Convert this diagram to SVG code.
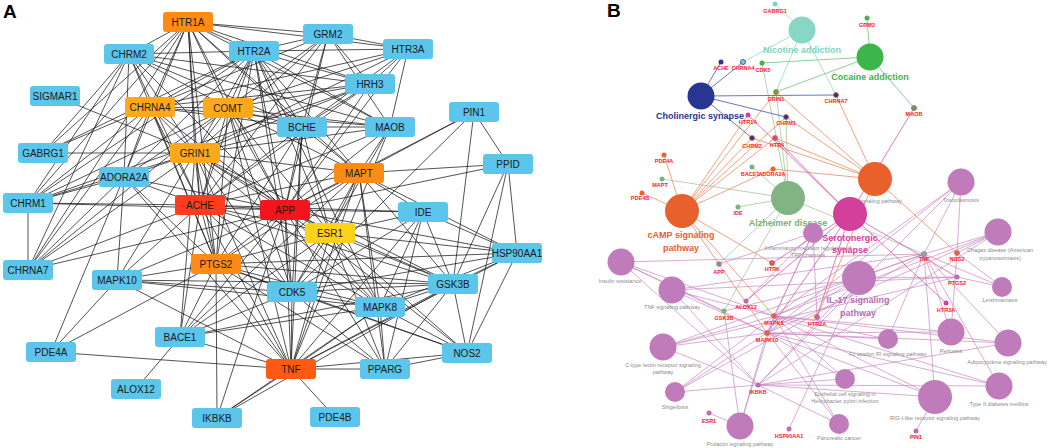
<svg xmlns="http://www.w3.org/2000/svg" width="1049" height="448" viewBox="0 0 1049 448">
<style>
.bg{fill:#ffffff}
.e{stroke:#1a1a1a;stroke-width:0.75;fill:none}
.n rect{rx:3;ry:3}
.blue{fill:#5BC5EB}
.org{fill:#FF8A14}
.lor{fill:#FFA91A}
.ache{fill:#FF3C1E}
.app{fill:#F3141C}
.esr{fill:#FFD21A}
.tnf{fill:#FF5A14}
.t{font-family:"Liberation Sans",Arial,sans-serif;font-size:10px;fill:#1a1a1a;text-anchor:middle}
.pl{font-family:"Liberation Sans",Arial,sans-serif;font-size:19px;font-weight:bold;fill:#000}
.bl{stroke-width:0.8;fill:none}
.c-chol{stroke:#4454AA}
.c-nic{stroke:#8ED9C6}
.c-coc{stroke:#6CC77A}
.c-alz{stroke:#A3C7A3}
.c-camp{stroke:#F08A62}
.c-ser{stroke:#D65AA8}
.c-pur{stroke:#C783C1;stroke-opacity:0.85}
.g{font-family:"Liberation Sans",Arial,sans-serif;font-size:5.5px;font-weight:bold;fill:#FF2020;text-anchor:middle}
.pw{font-family:"Liberation Sans",Arial,sans-serif;font-size:5.5px;fill:#8a8a8a;text-anchor:middle}
.big{font-family:"Liberation Sans",Arial,sans-serif;font-size:9px;font-weight:bold;text-anchor:middle}
.pur{fill:#C07CBA}
</style>
<rect class="bg" x="0" y="0" width="1049" height="448"/>
<text class="pl" x="3" y="18">A</text>
<text class="pl" x="607" y="17">B</text>

<g id="connectors-A">
<path class="e" d="M188 22L129 54M188 22L254 51M188 22L328 34M188 22L408 49M188 22L370 84M188 22L302 127M188 22L390 127M188 22L150 107M188 22L228 108M188 22L195 153M188 22L200 205M188 22L285 210M188 22L124 177M188 22L28 203M188 22L43 153M188 22L359 173M188 22L216 264M188 22L28 270"/>
<path class="e" d="M129 54L254 51M129 54L195 153M129 54L200 205M129 54L28 203M129 54L28 270M129 54L124 177M129 54L285 210M129 54L302 127M129 54L370 84M129 54L228 108M129 54L43 153M129 54L390 127M129 54L216 264"/>
<path class="e" d="M254 51L328 34M254 51L408 49M254 51L370 84M254 51L150 107M254 51L228 108M254 51L195 153M254 51L200 205M254 51L285 210M254 51L302 127M254 51L390 127M254 51L28 203M254 51L124 177M254 51L359 173M254 51L216 264M254 51L330 233M254 51L380 307M254 51L292 292M254 51L43 153"/>
<path class="e" d="M328 34L408 49M328 34L370 84M328 34L228 108M328 34L195 153M328 34L285 210M328 34L302 127M328 34L390 127M328 34L150 107M328 34L200 205"/>
<path class="e" d="M408 49L370 84M408 49L390 127M408 49L150 107M408 49L228 108M408 49L195 153M408 49L302 127M408 49L285 210"/>
<path class="e" d="M370 84L150 107M370 84L228 108M370 84L200 205M370 84L302 127M370 84L285 210M370 84L195 153M370 84L28 203"/>
<path class="e" d="M150 107L228 108M150 107L195 153M150 107L200 205M150 107L285 210M150 107L302 127M150 107L390 127M150 107L124 177M150 107L28 203M150 107L28 270M150 107L43 153M150 107L216 264"/>
<path class="e" d="M228 108L195 153M228 108L200 205M228 108L285 210M228 108L302 127M228 108L390 127M228 108L359 173M228 108L124 177M228 108L28 203M228 108L28 270M228 108L216 264M228 108L330 233M228 108L291 369M228 108L292 292"/>
<path class="e" d="M302 127L200 205M302 127L285 210M302 127L390 127M302 127L359 173M302 127L195 153M302 127L330 233M302 127L292 292M302 127L291 369M302 127L216 264"/>
<path class="e" d="M390 127L285 210M390 127L359 173M390 127L200 205M390 127L195 153M390 127L330 233M390 127L291 369"/>
<path class="e" d="M474 112L359 173M474 112L285 210M474 112L453 284M474 112L508 164M474 112L292 292"/>
<path class="e" d="M508 164L359 173M508 164L285 210M508 164L517 253M508 164L453 284M508 164L467 353"/>
<path class="e" d="M195 153L200 205M195 153L285 210M195 153L124 177M195 153L28 203M195 153L28 270M195 153L43 153M195 153L55 96M195 153L359 173M195 153L216 264M195 153L292 292M195 153L453 284M195 153L380 307M195 153L291 369M195 153L330 233M195 153L117 280M195 153L180 337"/>
<path class="e" d="M124 177L200 205M124 177L285 210M124 177L28 203M124 177L28 270M124 177L216 264M124 177L291 369M124 177L117 280M124 177L51 352"/>
<path class="e" d="M359 173L285 210M359 173L200 205M359 173L423 212M359 173L330 233M359 173L292 292M359 173L453 284M359 173L380 307M359 173L291 369M359 173L216 264M359 173L180 337M359 173L517 253M359 173L385 369"/>
<path class="e" d="M28 203L200 205M28 203L285 210M28 203L28 270"/>
<path class="e" d="M200 205L285 210M200 205L330 233M200 205L216 264M200 205L292 292M200 205L180 337M200 205L291 369M200 205L453 284M200 205L380 307M200 205L423 212M200 205L28 270M200 205L117 280"/>
<path class="e" d="M285 210L423 212M285 210L330 233M285 210L216 264M285 210L292 292M285 210L453 284M285 210L380 307M285 210L291 369M285 210L180 337M285 210L517 253M285 210L467 353M285 210L385 369M285 210L117 280M285 210L217 418M285 210L28 270"/>
<path class="e" d="M423 212L330 233M423 212L453 284M423 212L517 253M423 212L292 292M423 212L380 307M423 212L291 369M423 212L385 369"/>
<path class="e" d="M330 233L216 264M330 233L292 292M330 233L453 284M330 233L380 307M330 233L291 369M330 233L517 253M330 233L467 353M330 233L385 369M330 233L180 337"/>
<path class="e" d="M517 253L453 284M517 253L467 353M517 253L292 292M517 253L216 264M517 253L380 307M517 253L291 369"/>
<path class="e" d="M216 264L292 292M216 264L453 284M216 264L380 307M216 264L291 369M216 264L180 337M216 264L117 280M216 264L217 418M216 264L467 353M216 264L385 369M216 264L51 352"/>
<path class="e" d="M117 280L292 292M117 280L380 307M117 280L453 284M117 280L291 369M117 280L51 352"/>
<path class="e" d="M292 292L453 284M292 292L380 307M292 292L291 369M292 292L180 337M292 292L385 369M292 292L467 353"/>
<path class="e" d="M453 284L380 307M453 284L291 369M453 284L467 353M453 284L385 369M453 284L180 337M453 284L217 418"/>
<path class="e" d="M380 307L291 369M380 307L385 369M380 307L467 353M380 307L180 337M380 307L217 418"/>
<path class="e" d="M180 337L136 389M180 337L291 369M51 352L291 369M291 369L385 369M291 369L467 353M291 369L335 417M291 369L217 418M385 369L467 353"/>
</g>

<g id="node-HTR1A" class="n"><rect class="org" x="163" y="12" width="50" height="20"/><text class="t" x="188" y="25.5">HTR1A</text></g>
<g id="node-CHRM2" class="n"><rect class="blue" x="104" y="44" width="50" height="20"/><text class="t" x="129" y="57.5">CHRM2</text></g>
<g id="node-HTR2A" class="n"><rect class="blue" x="229" y="41" width="50" height="20"/><text class="t" x="254" y="54.5">HTR2A</text></g>
<g id="node-GRM2" class="n"><rect class="blue" x="303" y="24" width="50" height="20"/><text class="t" x="328" y="37.5">GRM2</text></g>
<g id="node-HTR3A" class="n"><rect class="blue" x="383" y="39" width="50" height="20"/><text class="t" x="408" y="52.5">HTR3A</text></g>
<g id="node-HRH3" class="n"><rect class="blue" x="345" y="74" width="50" height="20"/><text class="t" x="370" y="87.5">HRH3</text></g>
<g id="node-SIGMAR1" class="n"><rect class="blue" x="30" y="86" width="50" height="20"/><text class="t" x="55" y="99.5">SIGMAR1</text></g>
<g id="node-CHRNA4" class="n"><rect class="lor" x="125" y="97" width="50" height="20"/><text class="t" x="150" y="110.5">CHRNA4</text></g>
<g id="node-COMT" class="n"><rect class="lor" x="203" y="98" width="50" height="20"/><text class="t" x="228" y="111.5">COMT</text></g>
<g id="node-BCHE" class="n"><rect class="blue" x="277" y="117" width="50" height="20"/><text class="t" x="302" y="130.5">BCHE</text></g>
<g id="node-MAOB" class="n"><rect class="blue" x="365" y="117" width="50" height="20"/><text class="t" x="390" y="130.5">MAOB</text></g>
<g id="node-PIN1" class="n"><rect class="blue" x="449" y="102" width="50" height="20"/><text class="t" x="474" y="115.5">PIN1</text></g>
<g id="node-GABRG1" class="n"><rect class="blue" x="18" y="143" width="50" height="20"/><text class="t" x="43" y="156.5">GABRG1</text></g>
<g id="node-GRIN1" class="n"><rect class="lor" x="170" y="143" width="50" height="20"/><text class="t" x="195" y="156.5">GRIN1</text></g>
<g id="node-ADORA2A" class="n"><rect class="blue" x="99" y="167" width="50" height="20"/><text class="t" x="124" y="180.5">ADORA2A</text></g>
<g id="node-PPID" class="n"><rect class="blue" x="483" y="154" width="50" height="20"/><text class="t" x="508" y="167.5">PPID</text></g>
<g id="node-MAPT" class="n"><rect class="org" x="334" y="163" width="50" height="20"/><text class="t" x="359" y="176.5">MAPT</text></g>
<g id="node-CHRM1" class="n"><rect class="blue" x="3" y="193" width="50" height="20"/><text class="t" x="28" y="206.5">CHRM1</text></g>
<g id="node-ACHE" class="n"><rect class="ache" x="175" y="195" width="50" height="20"/><text class="t" x="200" y="208.5">ACHE</text></g>
<g id="node-APP" class="n"><rect class="app" x="260" y="200" width="50" height="20"/><text class="t" x="285" y="213.5">APP</text></g>
<g id="node-IDE" class="n"><rect class="blue" x="398" y="202" width="50" height="20"/><text class="t" x="423" y="215.5">IDE</text></g>
<g id="node-ESR1" class="n"><rect class="esr" x="305" y="223" width="50" height="20"/><text class="t" x="330" y="236.5">ESR1</text></g>
<g id="node-HSP90AA1" class="n"><rect class="blue" x="492" y="243" width="50" height="20"/><text class="t" x="517" y="256.5">HSP90AA1</text></g>
<g id="node-CHRNA7" class="n"><rect class="blue" x="3" y="260" width="50" height="20"/><text class="t" x="28" y="273.5">CHRNA7</text></g>
<g id="node-PTGS2" class="n"><rect class="org" x="191" y="254" width="50" height="20"/><text class="t" x="216" y="267.5">PTGS2</text></g>
<g id="node-MAPK10" class="n"><rect class="blue" x="92" y="270" width="50" height="20"/><text class="t" x="117" y="283.5">MAPK10</text></g>
<g id="node-CDK5" class="n"><rect class="blue" x="267" y="282" width="50" height="20"/><text class="t" x="292" y="295.5">CDK5</text></g>
<g id="node-GSK3B" class="n"><rect class="blue" x="428" y="274" width="50" height="20"/><text class="t" x="453" y="287.5">GSK3B</text></g>
<g id="node-MAPK8" class="n"><rect class="blue" x="355" y="297" width="50" height="20"/><text class="t" x="380" y="310.5">MAPK8</text></g>
<g id="node-BACE1" class="n"><rect class="blue" x="155" y="327" width="50" height="20"/><text class="t" x="180" y="340.5">BACE1</text></g>
<g id="node-PDE4A" class="n"><rect class="blue" x="26" y="342" width="50" height="20"/><text class="t" x="51" y="355.5">PDE4A</text></g>
<g id="node-NOS2" class="n"><rect class="blue" x="442" y="343" width="50" height="20"/><text class="t" x="467" y="356.5">NOS2</text></g>
<g id="node-TNF" class="n"><rect class="tnf" x="266" y="359" width="50" height="20"/><text class="t" x="291" y="372.5">TNF</text></g>
<g id="node-PPARG" class="n"><rect class="blue" x="360" y="359" width="50" height="20"/><text class="t" x="385" y="372.5">PPARG</text></g>
<g id="node-ALOX12" class="n"><rect class="blue" x="111" y="379" width="50" height="20"/><text class="t" x="136" y="392.5">ALOX12</text></g>
<g id="node-IKBKB" class="n"><rect class="blue" x="192" y="408" width="50" height="20"/><text class="t" x="217" y="421.5">IKBKB</text></g>
<g id="node-PDE4B" class="n"><rect class="blue" x="310" y="407" width="50" height="20"/><text class="t" x="335" y="420.5">PDE4B</text></g>

<g id="connectors-B">
<path class="bl c-pur" d="M621 262L924 254M621 262L774 316M621 262L767 333M621 262L758 385M621 262L724 311M672 290L924 254M672 290L957 277M672 290L774 316M672 290L767 333M672 290L758 385M663 347L924 254M663 347L957 277M663 347L774 316M663 347L767 333M663 347L758 385M675 392L924 254M675 392L774 316M675 392L767 333M675 392L758 385M740 426L709 413M740 426L724 311M740 426L774 316M740 426L767 333M839 424L774 316M839 424L767 333M839 424L758 385M845 379L774 316M845 379L767 333M845 379L758 385M935 397L924 254M935 397L774 316M935 397L767 333M935 397L758 385M935 397L916 431M888 339L924 254M888 339L774 316M888 339L767 333M951 332L924 254M951 332L957 253M951 332L774 316M951 332L767 333M1008 343L924 254M1008 343L774 316M1008 343L767 333M1008 343L758 385M999 386L924 254M999 386L774 316M999 386L767 333M999 386L758 385M1002 287L924 254M1002 287L957 253M1002 287L957 277M998 232L924 254M998 232L957 253M998 232L758 385M998 232L774 316M998 232L767 333M961 182L924 254M961 182L957 253M961 182L774 316M961 182L767 333M961 182L758 385M859 278L924 254M859 278L957 277M859 278L774 316M859 278L767 333M859 278L758 385M859 278L724 311M859 278L789 429M813 233L817 317M813 233L774 316M813 233L767 333M813 233L746 301M813 233L719 264"/>
<path class="bl c-alz" d="M788 198L762 63M788 198L776 92M788 198L752 167M788 198L738 207M788 198L662 179M788 198L719 264M788 198L724 311M788 198L924 254M788 198L786 117"/>
<path class="bl c-camp" d="M682 211L664 155M682 211L642 193M682 211L776 92M682 211L748 115M682 211L786 117M682 211L752 138M682 211L775 138M682 211L773 169M682 211L772 263M682 211L774 316M682 211L767 333M875 179L776 92M875 179L836 95M875 179L786 117M875 179L752 138M875 179L775 138M875 179L773 169M875 179L957 253M875 179L817 317"/>
<path class="bl c-ser" d="M850 214L748 115M850 214L775 138M850 214L914 108M850 214L817 317M850 214L946 303M850 214L772 263M850 214L746 301M850 214L767 333M850 214L957 277"/>
<path class="bl c-chol" d="M701 96L721 62M701 96L743 62M701 96L836 95M701 96L786 117M701 96L752 138"/>
<path class="bl c-nic" d="M802 30L775 4M802 30L743 62M802 30L836 95M802 30L776 92"/>
<path class="bl c-coc" d="M870 57L867 18M870 57L914 108M870 57L762 63M870 57L776 92"/>
</g>

<g id="pw-cholinergic"><circle cx="701" cy="96" r="13.5" fill="#283593"/><text class="big" x="700" y="119" fill="#283593">Cholinergic synapse</text></g>
<g id="pw-nicotine"><circle cx="802" cy="30" r="13.5" fill="#88D6C4"/><text class="big" x="802" y="53" fill="#7FD3C0">Nicotine addiction</text></g>
<g id="pw-cocaine"><circle cx="870" cy="57" r="13.5" fill="#3CB54A"/><text class="big" x="870" y="80" fill="#3CB54A">Cocaine addiction</text></g>
<g id="pw-calcium"><circle cx="875" cy="179" r="17" fill="#E8612C"/><text class="pw" x="858" y="203" style="text-anchor:start">signaling pathway</text></g>
<g id="pw-alzheimer"><circle cx="788" cy="198" r="17" fill="#82B383"/><text class="big" x="788" y="226" fill="#7AAE7A">Alzheimer disease</text></g>
<g id="pw-camp"><circle cx="682" cy="211" r="17" fill="#E8612C"/><text class="big" x="681" y="238" fill="#E8612C">cAMP signaling</text><text class="big" x="681" y="251" fill="#E8612C">pathway</text></g>
<g id="pw-inflammatory"><circle class="pur" cx="813" cy="233" r="10"/><text class="pw" x="808" y="249.5">Inflammatory mediator regulation of</text><text class="pw" x="808" y="256.5">TRP channels</text></g>
<g id="pw-serotonergic"><circle cx="850" cy="214" r="17" fill="#D3409C"/><text class="big" x="850" y="241" fill="#D3409C">Serotonergic</text><text class="big" x="850" y="253" fill="#D3409C">synapse</text></g>
<g id="pw-toxoplasmosis"><circle class="pur" cx="961" cy="182" r="13.5"/><text class="pw" x="961" y="202">Toxoplasmosis</text></g>
<g id="pw-chagas"><circle class="pur" cx="998" cy="232" r="13.5"/><text class="pw" x="1000" y="252">Chagas disease (American</text><text class="pw" x="1000" y="260">trypanosomiasis)</text></g>
<g id="pw-leishmaniasis"><circle class="pur" cx="1002" cy="287" r="10"/><text class="pw" x="1000" y="302">Leishmaniasis</text></g>
<g id="pw-insulin"><circle class="pur" cx="621" cy="262" r="13.5"/><text class="pw" x="620" y="283">Insulin resistance</text></g>
<g id="pw-tnfsig"><circle class="pur" cx="672" cy="290" r="13.5"/><text class="pw" x="672" y="309">TNF signaling pathway</text></g>
<g id="pw-il17"><circle class="pur" cx="859" cy="278" r="17"/><text class="big" x="858" y="303" fill="#B86DB0">IL-17 signaling</text><text class="big" x="858" y="316" fill="#B86DB0">pathway</text></g>
<g id="pw-ctype"><circle class="pur" cx="663" cy="347" r="13.5"/><text class="pw" x="663" y="367">C-type lectin receptor signaling</text><text class="pw" x="663" y="374">pathway</text></g>
<g id="pw-shigellosis"><circle class="pur" cx="675" cy="392" r="10"/><text class="pw" x="675" y="409">Shigellosis</text></g>
<g id="pw-prolactin"><circle class="pur" cx="740" cy="426" r="13.5"/><text class="pw" x="740" y="446">Prolactin signaling pathway</text></g>
<g id="pw-fcepsilon"><circle class="pur" cx="888" cy="339" r="10"/><text class="pw" x="888" y="356">Fc epsilon RI signaling pathway</text></g>
<g id="pw-pertussis"><circle class="pur" cx="951" cy="332" r="13.5"/><text class="pw" x="951" y="353">Pertussis</text></g>
<g id="pw-adipocytokine"><circle class="pur" cx="1008" cy="343" r="13.5"/><text class="pw" x="1007" y="364">Adipocytokine signaling pathway</text></g>
<g id="pw-epithelial"><circle class="pur" cx="845" cy="379" r="10"/><text class="pw" x="845" y="396">Epithelial cell signaling in</text><text class="pw" x="845" y="403">Helicobacter pylori infection</text></g>
<g id="pw-diabetes"><circle class="pur" cx="999" cy="386" r="13.5"/><text class="pw" x="999" y="406">Type II diabetes mellitus</text></g>
<g id="pw-rigi"><circle class="pur" cx="935" cy="397" r="17"/><text class="pw" x="935" y="420">RIG-I-like receptor signaling pathway</text></g>
<g id="pw-pancreatic"><circle class="pur" cx="839" cy="424" r="10"/><text class="pw" x="839" y="440">Pancreatic cancer</text></g>

<g id="gene-GABRG1"><circle cx="775" cy="4" r="2.5" fill="#7FD3C0"/><text class="g" x="775" y="13">GABRG1</text></g>
<g id="gene-ACHE"><circle cx="721" cy="62" r="2.5" fill="#283593"/><text class="g" x="721" y="70">ACHE</text></g>
<g id="gene-CHRNA4"><circle cx="743" cy="62" r="2.5" fill="#7FD3C0" stroke="#283593" stroke-width="0.8"/><text class="g" x="743" y="70">CHRNA4</text></g>
<g id="gene-CDK5"><circle cx="762" cy="63" r="2.5" fill="#3CB54A"/><text class="g" x="763" y="72">CDK5</text></g>
<g id="gene-GRM2"><circle cx="867" cy="18" r="2.5" fill="#3CB54A"/><text class="g" x="867" y="27">GRM2</text></g>
<g id="gene-GRIN1"><circle cx="776" cy="92" r="2.5" fill="#3CB54A" stroke="#E8612C" stroke-width="0.8"/><text class="g" x="776" y="101">GRIN1</text></g>
<g id="gene-CHRNA7"><circle cx="836" cy="95" r="2.5" fill="#283593" stroke="#E8612C" stroke-width="0.8"/><text class="g" x="836" y="103">CHRNA7</text></g>
<g id="gene-MAOB"><circle cx="914" cy="108" r="2.5" fill="#3CB54A" stroke="#D3409C" stroke-width="0.8"/><text class="g" x="914" y="116">MAOB</text></g>
<g id="gene-HTR1A"><circle cx="748" cy="115" r="2.5" fill="#D3409C"/><text class="g" x="748" y="124">HTR1A</text></g>
<g id="gene-CHRM1"><circle cx="786" cy="117" r="2.5" fill="#283593" stroke="#E8612C" stroke-width="0.8"/><text class="g" x="786" y="125">CHRM1</text></g>
<g id="gene-CHRM2"><circle cx="752" cy="138" r="2.5" fill="#283593" stroke="#E8612C" stroke-width="0.8"/><text class="g" x="752" y="148">CHRM2</text></g>
<g id="gene-HTR4"><circle cx="775" cy="138" r="2.5" fill="#D3409C" stroke="#E8612C" stroke-width="0.8"/><text class="g" x="777" y="147">HTR4</text></g>
<g id="gene-PDE4A"><circle cx="664" cy="155" r="2.5" fill="#E8612C"/><text class="g" x="664" y="163">PDE4A</text></g>
<g id="gene-MAPT"><circle cx="662" cy="179" r="2.5" fill="#7FB07F"/><text class="g" x="660" y="187">MAPT</text></g>
<g id="gene-PDE4B"><circle cx="642" cy="193" r="2.5" fill="#E8612C"/><text class="g" x="640" y="200">PDE4B</text></g>
<g id="gene-BACE1"><circle cx="752" cy="167" r="2.5" fill="#7FB07F"/><text class="g" x="750" y="176">BACE1</text></g>
<g id="gene-ADORA2A"><circle cx="773" cy="169" r="2.5" fill="#E8612C"/><text class="g" x="772" y="176">ADORA2A</text></g>
<g id="gene-IDE"><circle cx="738" cy="207" r="2.5" fill="#7FB07F"/><text class="g" x="738" y="215">IDE</text></g>
<g id="gene-APP"><circle cx="719" cy="264" r="2.5" fill="#B86DB0" stroke="#7FB07F" stroke-width="0.8"/><text class="g" x="719" y="274">APP</text></g>
<g id="gene-HTR6"><circle cx="772" cy="263" r="2.5" fill="#E8612C" stroke="#D3409C" stroke-width="0.8"/><text class="g" x="772" y="271">HTR6</text></g>
<g id="gene-TNF"><circle cx="924" cy="254" r="2.5" fill="#7FB07F" stroke="#B86DB0" stroke-width="0.8"/><text class="g" x="924" y="261">TNF</text></g>
<g id="gene-NOS2"><circle cx="957" cy="253" r="2.5" fill="#E8612C" stroke="#B86DB0" stroke-width="0.8"/><text class="g" x="957" y="261">NOS2</text></g>
<g id="gene-PTGS2"><circle cx="957" cy="277" r="2.5" fill="#B86DB0"/><text class="g" x="957" y="285">PTGS2</text></g>
<g id="gene-HTR3A"><circle cx="946" cy="303" r="2.5" fill="#D3409C"/><text class="g" x="946" y="312">HTR3A</text></g>
<g id="gene-ALOX12"><circle cx="746" cy="301" r="2.5" fill="#B86DB0"/><text class="g" x="746" y="309">ALOX12</text></g>
<g id="gene-GSK3B"><circle cx="724" cy="311" r="2.5" fill="#7FB07F"/><text class="g" x="724" y="320">GSK3B</text></g>
<g id="gene-MAPK8"><circle cx="774" cy="316" r="2.5" fill="#E8612C" stroke="#B86DB0" stroke-width="0.8"/><text class="g" x="774" y="325">MAPK8</text></g>
<g id="gene-HTR2A"><circle cx="817" cy="317" r="2.5" fill="#B86DB0" stroke="#E8612C" stroke-width="0.8"/><text class="g" x="817" y="326">HTR2A</text></g>
<g id="gene-MAPK10"><circle cx="767" cy="333" r="2.5" fill="#E8612C" stroke="#B86DB0" stroke-width="0.8"/><text class="g" x="767" y="342">MAPK10</text></g>
<g id="gene-IKBKB"><circle cx="758" cy="385" r="2.5" fill="#B86DB0"/><text class="g" x="758" y="394">IKBKB</text></g>
<g id="gene-ESR1"><circle cx="709" cy="413" r="2.5" fill="#B86DB0"/><text class="g" x="709" y="423">ESR1</text></g>
<g id="gene-HSP90AA1"><circle cx="789" cy="429" r="2.5" fill="#B86DB0"/><text class="g" x="789" y="438">HSP90AA1</text></g>
<g id="gene-PIN1"><circle cx="916" cy="431" r="2.5" fill="#B86DB0"/><text class="g" x="916" y="439">PIN1</text></g>
</svg>
